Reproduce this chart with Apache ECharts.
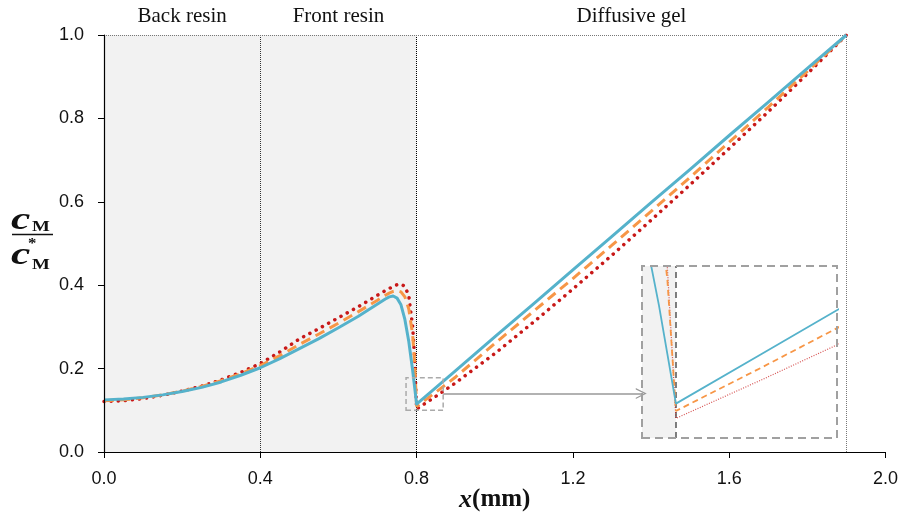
<!DOCTYPE html>
<html>
<head>
<meta charset="utf-8">
<script src="https://cdn.jsdelivr.net/npm/echarts@6/dist/echarts.min.js"></script>
<style>html,body{margin:0;padding:0;background:#fff}#c{width:900px;height:515px}</style>
</head>
<body>
<div id="c"></div>
<script>
// ---- data ----
const xTicks = [0, 0.4, 0.8, 1.2, 1.6, 2.0];
const yTicks = [0, 0.2, 0.4, 0.6, 0.8, 1.0];
const regionNames = ['Back resin', 'Front resin', 'Diffusive gel'];
const regionBounds = [0, 0.4, 0.8, 1.9];

const xResin = [0,0.05,0.1,0.15,0.2,0.25,0.3,0.35,0.4,0.45,0.5,0.55,0.6,0.65,0.7,0.72,0.73,0.74,0.75,0.76,0.77,0.78,0.79,0.795,0.8];
const blueResin = [.125,.127,.131,.137,.145,.155,.168,.184,.202,.224,.248,.272,.298,.325,.355,.367,.372,.374,.369,.353,.318,.265,.195,.155,.115];
const orangeResin = [.123,.125,.13,.137,.146,.157,.171,.188,.207,.231,.258,.283,.309,.336,.364,.376,.381,.385,.387,.384,.372,.343,.28,.215,.109];
const redResin = [.121,.123,.128,.136,.146,.158,.173,.191,.212,.24,.271,.296,.322,.348,.376,.387,.392,.397,.401,.403,.397,.375,.3,.225,.103];

const xGel = [0.85,0.9,1.0,1.1,1.2,1.3,1.4,1.5,1.6,1.7,1.8,1.9];
const blueGel = [.155,.195,.276,.356,.437,.517,.598,.678,.759,.839,.920,1.0];
const orangeGel = [.144,.180,.260,.338,.416,.496,.577,.659,.743,.827,.913,1.0];
const redGel = [.134,.166,.236,.312,.391,.472,.556,.641,.728,.816,.907,1.0];

// zoom window shown in the inset
const zoomBoxX = [0.773, 0.868];
const zoomBoxY = [0.10, 0.178];
const insetX = [0.78, 0.895];
const insetY = [0.087, 0.227];
const arrowY = 0.14;
const arrowEndX = 1.375;

function pairs(xs, ys) { return xs.map((x, i) => [x, ys[i]]); }
const blueData = pairs(xResin, blueResin).concat(pairs(xGel, blueGel));
const orangeData = pairs(xResin, orangeResin).concat(pairs(xGel, orangeGel));
const redData = pairs(xResin, redResin).concat(pairs(xGel, redGel));

const BLUE = '#55B2CB', ORANGE = '#F79646', RED = '#C81818';
const tickFont = {fontFamily: 'Liberation Sans', fontSize: 18, color: '#111'};

const chart = echarts.init(document.getElementById('c'), null, {renderer: 'canvas'});

const regionLabel = (name) => ({show: true, position: 'top', distance: 8, formatter: name,
  fontFamily: 'Liberation Serif', fontSize: 21, color: '#111'});

const cFont = 'italic bold 31px "Liberation Serif"';
const mFont = 'bold 14px "Liberation Serif"';

chart.setOption({
  animation: false,
  backgroundColor: '#fff',
  grid: [
    {left: 104, top: 35, width: 781.5, height: 417, outerBoundsMode: 'none', containLabel: false},
    {left: 642, top: 266, width: 195, height: 172, show: true, backgroundColor: '#fff', borderWidth: 0, z: 2,
     outerBoundsMode: 'none', containLabel: false}
  ],
  xAxis: [
    {type: 'value', gridIndex: 0, min: 0, max: 2.0, interval: 0.4, z: 10,
     axisLine: {lineStyle: {color: '#000', width: 1.2}},
     axisTick: {show: true, length: 6, lineStyle: {color: '#000'}},
     axisLabel: Object.assign({margin: 18, formatter: v => v.toFixed(1)}, tickFont),
     splitLine: {show: false},
     name: '{i|x}{b|(mm)}', nameLocation: 'middle', nameGap: 35, nameMoveOverlap: false,
     nameTextStyle: {rich: {
       i: {fontFamily: 'Liberation Serif', fontStyle: 'italic', fontWeight: 'bold', fontSize: 26, color: '#111'},
       b: {fontFamily: 'Liberation Serif', fontWeight: 'bold', fontSize: 25, color: '#111'}}}},
    {type: 'value', gridIndex: 1, min: insetX[0], max: insetX[1], show: false}
  ],
  yAxis: [
    {type: 'value', gridIndex: 0, min: 0, max: 1.0, interval: 0.2, z: 10,
     axisLine: {show: true, lineStyle: {color: '#000', width: 1.2}},
     axisTick: {show: true, length: 6, lineStyle: {color: '#000'}},
     axisLabel: Object.assign({margin: 20, formatter: v => v.toFixed(1)}, tickFont),
     splitLine: {show: false}},
    {type: 'value', gridIndex: 1, min: insetY[0], max: insetY[1], show: false}
  ],
  graphic: [
    {type: 'text', x: 11, y: 220.5, scaleX: 1.4, style: {text: 'c', font: cFont, fill: '#111', align: 'left', verticalAlign: 'middle'}},
    {type: 'text', x: 32, y: 227, scaleX: 1.35, style: {text: 'M', font: mFont, fill: '#111', align: 'left', verticalAlign: 'middle'}},
    {type: 'line', shape: {x1: 12, y1: 234.5, x2: 53, y2: 234.5}, style: {stroke: '#111', lineWidth: 1.5}},
    {type: 'text', x: 28, y: 244, scaleX: 1.2, style: {text: '*', font: mFont, fill: '#111', align: 'left', verticalAlign: 'middle'}},
    {type: 'text', x: 11, y: 255.5, scaleX: 1.4, style: {text: 'c', font: cFont, fill: '#111', align: 'left', verticalAlign: 'middle'}},
    {type: 'text', x: 32, y: 265, scaleX: 1.35, style: {text: 'M', font: mFont, fill: '#111', align: 'left', verticalAlign: 'middle'}}
  ],
  series: [
    // decorations in the main plot
    {type: 'line', xAxisIndex: 0, yAxisIndex: 0, data: [], symbol: 'none', z: 1, silent: true,
     markArea: {silent: true, z: 1, data: [
       [{coord: [regionBounds[0], 0], itemStyle: {color: '#F2F2F2'}, label: regionLabel(regionNames[0])}, {coord: [regionBounds[1], 1]}],
       [{coord: [regionBounds[1], 0], itemStyle: {color: '#F2F2F2'}, label: regionLabel(regionNames[1])}, {coord: [regionBounds[2], 1]}],
       [{coord: [regionBounds[2], 0], itemStyle: {color: 'rgba(0,0,0,0)'}, label: regionLabel(regionNames[2])}, {coord: [regionBounds[3], 1]}]
     ]},
     markLine: {silent: true, symbol: 'none', z: 2, label: {show: false}, data: [
       [{coord: [regionBounds[1], 0], lineStyle: {color: '#333', type: [1, 1], width: 1}}, {coord: [regionBounds[1], 1]}],
       [{coord: [regionBounds[2], 0], lineStyle: {color: '#000', type: [1, 1], width: 1}}, {coord: [regionBounds[2], 1]}],
       [{coord: [regionBounds[3], 0], lineStyle: {color: '#777', type: [1, 1], width: 1}}, {coord: [regionBounds[3], 1]}],
       [{coord: [regionBounds[0], 1], lineStyle: {color: '#777', type: [1, 1], width: 1}}, {coord: [regionBounds[3], 1]}]
     ]}},
    {name: 'red', type: 'line', xAxisIndex: 0, yAxisIndex: 0, data: redData, symbol: 'none', z: 3,
     lineStyle: {color: RED, width: 3.5, type: [0.1, 7], cap: 'round'}},
    {name: 'orange', type: 'line', xAxisIndex: 0, yAxisIndex: 0, data: orangeData, symbol: 'none', z: 4,
     lineStyle: {color: ORANGE, width: 3, type: [10, 6]}},
    {name: 'blue', type: 'line', xAxisIndex: 0, yAxisIndex: 0, data: blueData, symbol: 'none', z: 5,
     lineStyle: {color: BLUE, width: 3, join: 'round'}},
    // zoom box + arrow
    {type: 'line', xAxisIndex: 0, yAxisIndex: 0, data: [], symbol: 'none', z: 6, silent: true,
     markArea: {silent: true, z: 6, data: [
       [{coord: [zoomBoxX[0], zoomBoxY[0]], itemStyle: {color: 'rgba(0,0,0,0)', borderColor: '#AAA', borderWidth: 1.5, borderType: [5, 3]}},
        {coord: [zoomBoxX[1], zoomBoxY[1]]}]
     ]},
     markLine: {silent: true, label: {show: false}, z: 6,
       symbol: ['none', 'path://M0,12 L6,0 L12,12 L10.5,12 L6,3 L1.5,12 Z'], symbolSize: [11, 11],
       lineStyle: {color: '#999', width: 1.5, type: 'solid'},
       data: [[{coord: [zoomBoxX[1], arrowY]}, {coord: [arrowEndX, arrowY]}]]}},
    // inset
    {type: 'line', xAxisIndex: 1, yAxisIndex: 1, data: [], symbol: 'none', z: 6, silent: true,
     markArea: {silent: true, z: 6, data: [
       [{coord: [insetX[0], insetY[0]], itemStyle: {color: '#F2F2F2'}}, {coord: [0.8, insetY[1]]}]
     ]},
     markLine: {silent: true, symbol: 'none', z: 7, label: {show: false}, data: [
       [{coord: [0.8, insetY[0]], lineStyle: {color: '#555', type: [6, 4], width: 1.5}}, {coord: [0.8, insetY[1]]}]
     ]}},
    {type: 'line', xAxisIndex: 1, yAxisIndex: 1, data: redData, symbol: 'none', z: 8, clip: true,
     lineStyle: {color: RED, width: 1.2, type: [1, 1.5], opacity: 0.75}},
    {type: 'line', xAxisIndex: 1, yAxisIndex: 1, data: orangeData, symbol: 'none', z: 9, clip: true,
     lineStyle: {color: ORANGE, width: 1.8, type: [6, 4]}},
    {type: 'line', xAxisIndex: 1, yAxisIndex: 1, data: blueData, symbol: 'none', z: 10, clip: true,
     lineStyle: {color: BLUE, width: 1.8}},
    {type: 'line', xAxisIndex: 1, yAxisIndex: 1, data: [], symbol: 'none', z: 11, silent: true,
     markArea: {silent: true, z: 11, data: [
       [{coord: [insetX[0], insetY[0]], itemStyle: {color: 'rgba(0,0,0,0)', borderColor: '#A0A0A0', borderWidth: 2, borderType: [8, 5]}},
        {coord: [insetX[1], insetY[1]]}]
     ]}}
  ]
});
</script>
</body>
</html>
